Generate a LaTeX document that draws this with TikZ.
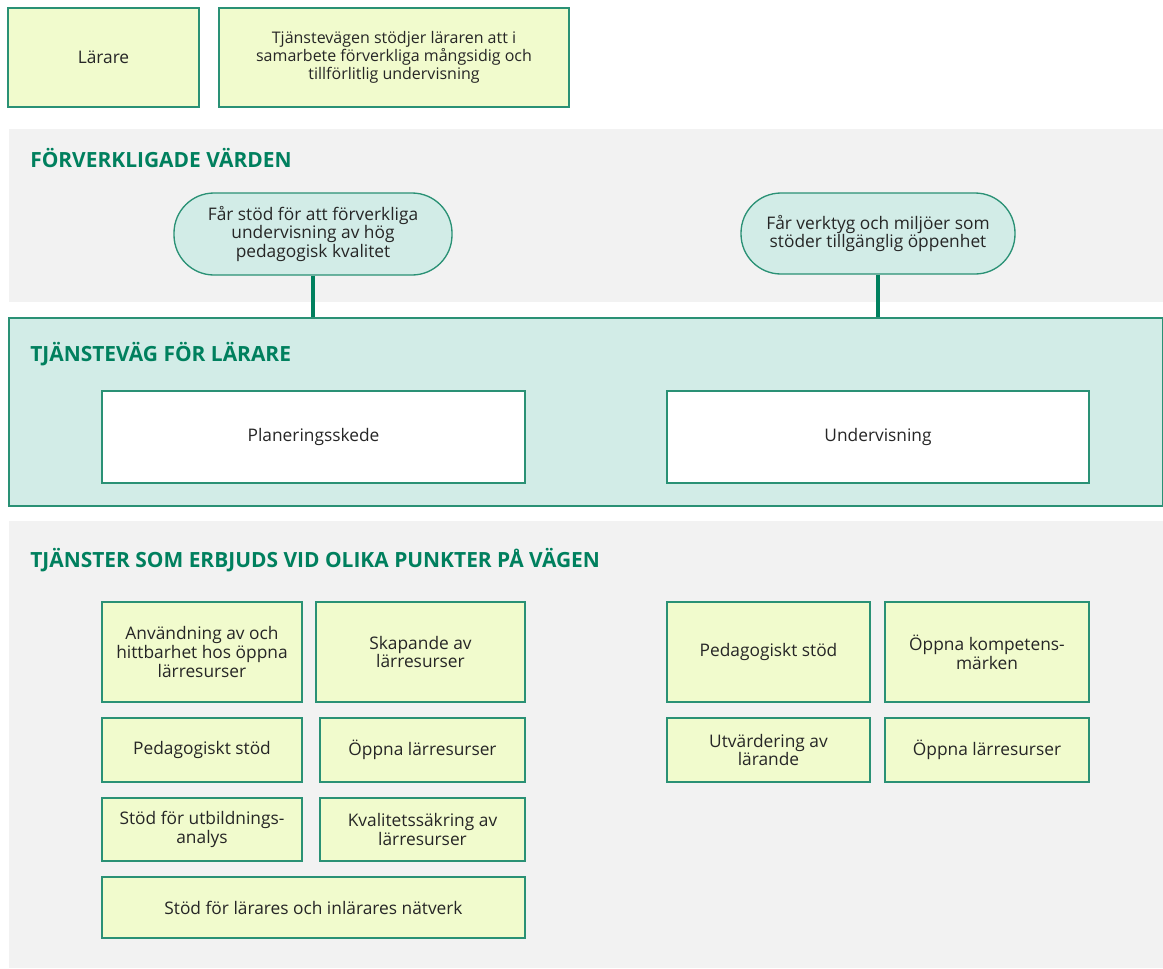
\documentclass[tikz,border=0pt]{standalone}
\usepackage{fontspec}
\setmainfont{Open Sans}
\definecolor{bordergreen}{HTML}{2A9175}
\definecolor{titlegreen}{HTML}{00805E}
\definecolor{boxfill}{HTML}{F1FBCD}
\definecolor{tealfill}{HTML}{D2ECE7}
\definecolor{grayfill}{HTML}{F2F2F2}
\begin{document}
\begin{tikzpicture}[x=0.75pt,y=-0.75pt,
  sz/.style 2 args={minimum width=#1*0.75pt, minimum height=#2*0.75pt},
  box/.style={draw=bordergreen, line width=1pt, fill=boxfill, inner sep=0pt, align=center, font=\fontsize{13pt}{14pt}\selectfont, text=black!85},
  whitebox/.style={box, fill=white},
  pill/.style={box, fill=tealfill, rounded corners=30pt},
  band/.style={draw=none, fill=grayfill, inner sep=0pt},
  tealband/.style={draw=bordergreen, line width=1pt, fill=tealfill, inner sep=0pt},
  sectitle/.style={anchor=west, font=\bfseries\fontsize{15.7pt}{18pt}\selectfont, text=titlegreen, inner sep=0pt},
  conn/.style={draw=titlegreen, line width=2.4pt}
]
\useasboundingbox (0,0) rectangle (1163,968);
% bands
\node[band, sz={1154}{173}] (band1) at (586,215.5) {};
\node[tealband, sz={1154}{188}] (band2) at (586,412) {};
\node[band, sz={1154}{447}] (band3) at (586,744.5) {};
\node[sectitle] (t1) at (30,158) {FÖRVERKLIGADE VÄRDEN};
\node[sectitle] (t2) at (30,354) {TJÄNSTEVÄG FÖR LÄRARE};
\node[sectitle] (t3) at (30,560) {TJÄNSTER SOM ERBJUDS VID OLIKA PUNKTER PÅ VÄGEN};
% top boxes
\node[box, sz={191}{99}] (larare) at (103.5,57.5) {Lärare};
\node[box, sz={350}{99}, font=\fontsize{12pt}{13.5pt}\selectfont] (desc) at (394,57.5) {Tjänstevägen stödjer läraren att i\\samarbete förverkliga mångsidig och\\tillförlitlig undervisning};
% pills
\node[pill, sz={278}{82}] (p1) at (313,234) {Får stöd för att förverkliga\\undervisning av hög\\pedagogisk kvalitet};
\node[pill, sz={274}{81}] (p2) at (878,233.5) {Får verktyg och miljöer som\\stöder tillgänglig öppenhet};
\draw[conn] (p1.south) -- (p1.south |- band2.north);
\draw[conn] (p2.south) -- (p2.south |- band2.north);
% path stages
\node[whitebox, sz={423}{92}] (plan) at (313.5,437) {Planeringsskede};
\node[whitebox, sz={422}{92}] (teach) at (878,437) {Undervisning};
% services left
\node[box, sz={200}{100}] (s1) at (202,652) {Användning av och\\hittbarhet hos öppna\\lärresurser};
\node[box, sz={209}{100}] (s2) at (420.5,652) {Skapande av\\lärresurser};
\node[box, sz={200}{64}] (s3) at (202,750) {Pedagogiskt stöd};
\node[box, sz={205}{64}] (s4) at (422.5,750) {Öppna lärresurser};
\node[box, sz={200}{63}] (s5) at (202,829.5) {Stöd för utbildnings-\\analys};
\node[box, sz={205}{63}] (s6) at (422.5,829.5) {Kvalitetssäkring av\\lärresurser};
\node[box, sz={423}{61}] (s7) at (313.5,907.5) {Stöd för lärares och inlärares nätverk};
% services right
\node[box, sz={203}{100}] (r1) at (768.5,652) {Pedagogiskt stöd};
\node[box, sz={204}{100}] (r2) at (987,652) {Öppna kompetens-\\märken};
\node[box, sz={203}{64}] (r3) at (768.5,750) {Utvärdering av\\lärande};
\node[box, sz={204}{64}] (r4) at (987,750) {Öppna lärresurser};
\end{tikzpicture}
\end{document}
